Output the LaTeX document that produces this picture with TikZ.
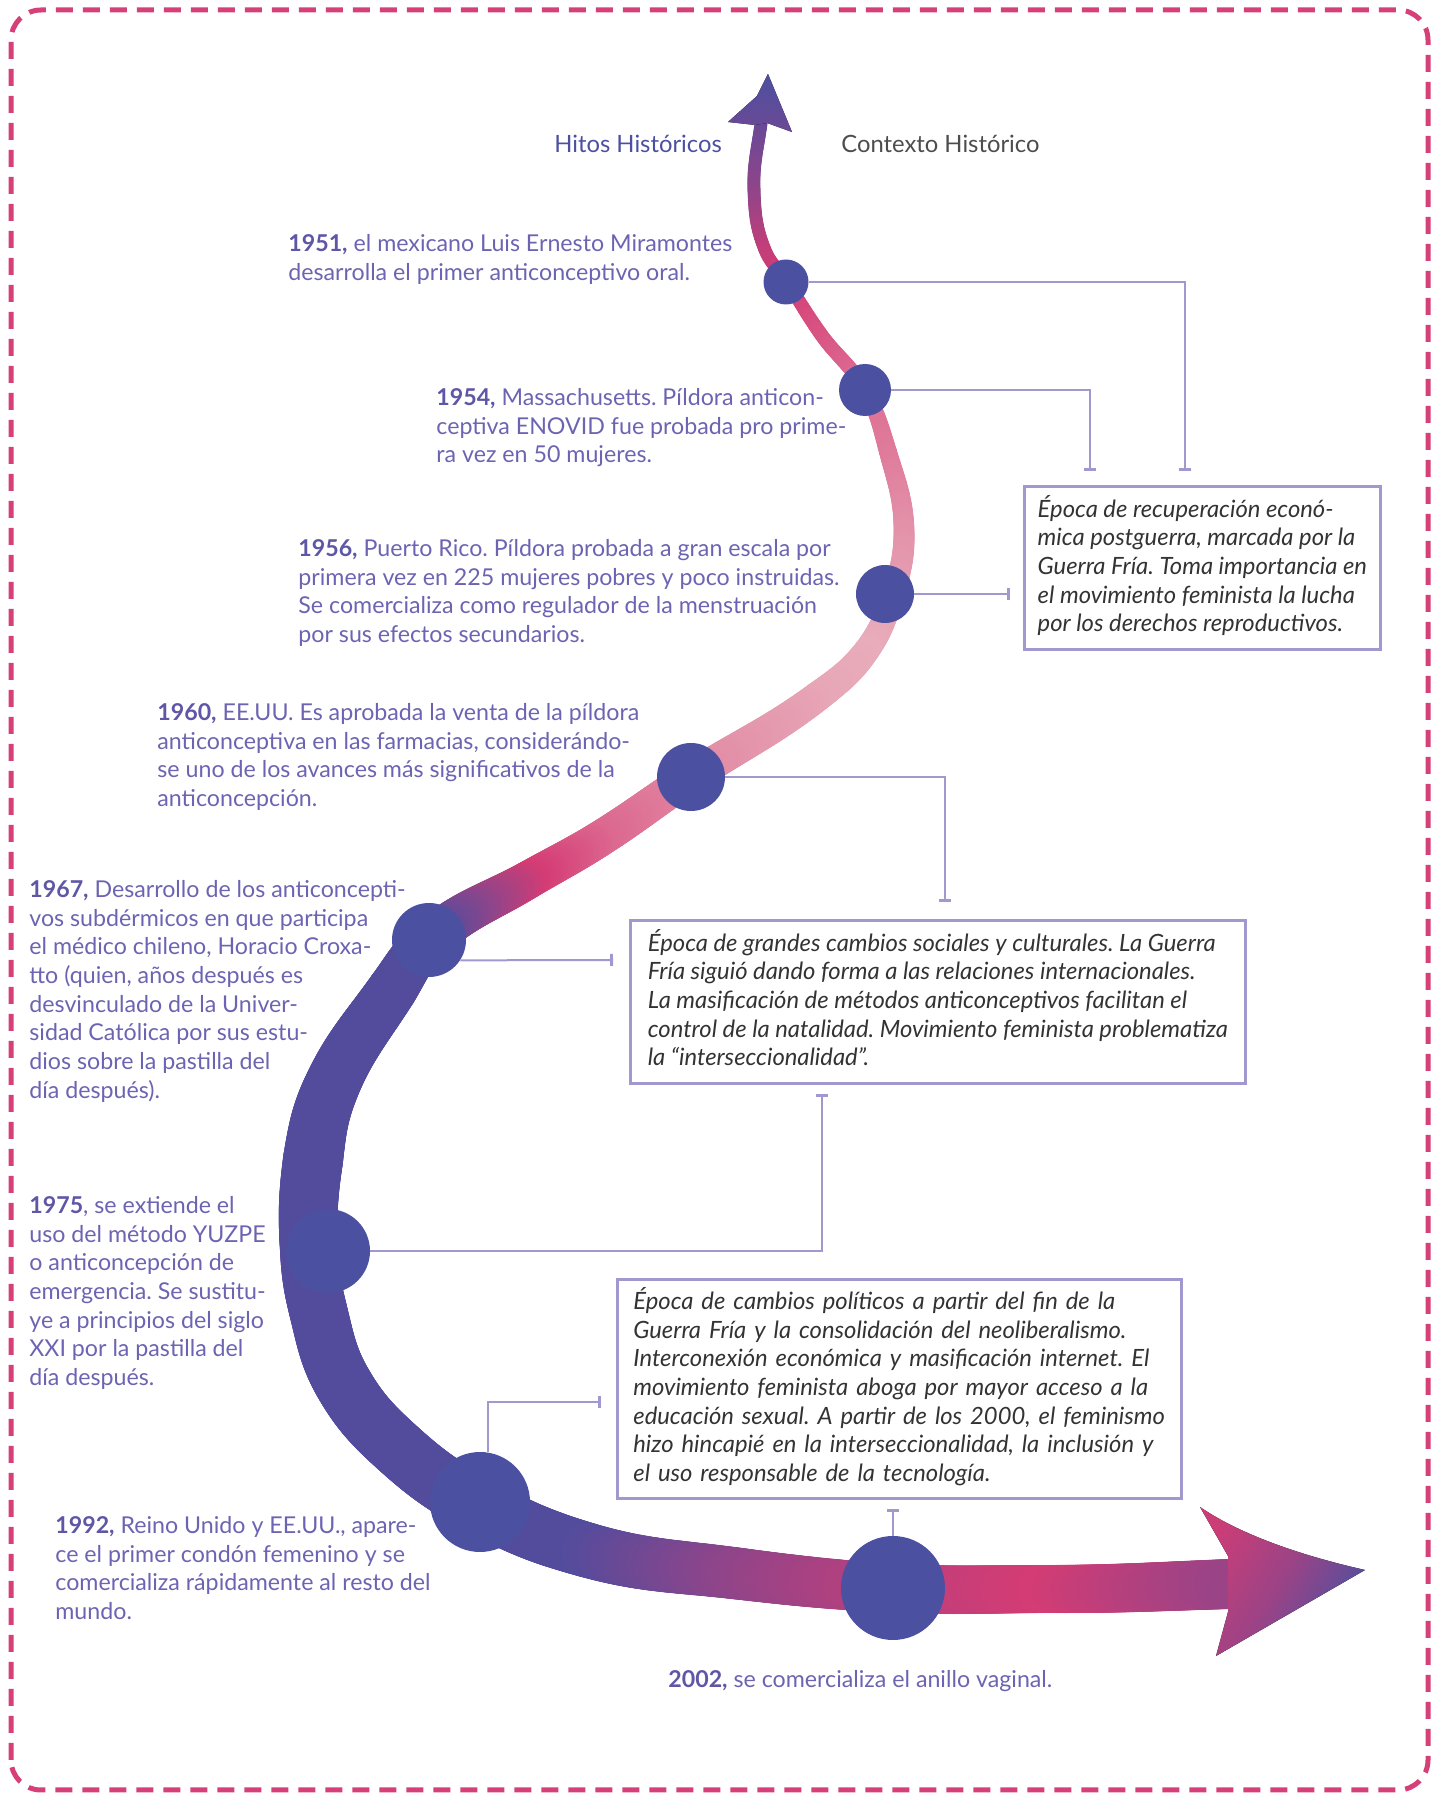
\documentclass[tikz,border=0pt]{standalone}
\usepackage{fontspec}
\setmainfont{Lato}
\usetikzlibrary{arrows.meta,decorations.markings}

\definecolor{hitoblue}{HTML}{4C50A0}
\definecolor{bandblue}{HTML}{534C9D}
\definecolor{bandmag}{HTML}{D43C74}
\definecolor{bandlight}{HTML}{E8ACBA}
\definecolor{hitotext}{HTML}{6C64B2}
\definecolor{yeartext}{HTML}{5E57A6}
\definecolor{linkcol}{HTML}{A298D0}
\definecolor{boxtext}{HTML}{333333}
\definecolor{ctxgray}{HTML}{4D4D4D}
\definecolor{framecol}{HTML}{D64078}

\newcommand\yr[1]{\textbf{\color{yeartext}#1}}
\frenchspacing

\begin{document}
\begin{tikzpicture}[x=0.5pt,y=0.5pt,
  hito/.style={circle,fill=hitoblue,inner sep=0pt},
  hitotxt/.style={anchor=north west,inner sep=0pt,align=left,text=hitotext,
    font=\fontsize{11.6}{14.35}\selectfont},
  ctx/.style={draw=linkcol,line width=1.35pt,anchor=north west,inner sep=0pt,
    align=left,text=boxtext,font=\fontsize{11.9}{14.35}\selectfont\itshape},
  title/.style={anchor=base west,inner sep=0pt,font=\fontsize{11.9}{14}\selectfont},
  link/.style={draw=linkcol,line width=1pt,-{Bar[width=6pt,line width=1.4pt]}}]

  \useasboundingbox (0,0) rectangle (1431,1796);
  \draw[framecol,line width=2.5pt,dash pattern=on 8.5pt off 5pt,rounded corners=15pt]
    (11,6) rectangle (1428,1786);

  \foreach \n/\x/\y in {0/761/1672,1/754/1606,2/765/1546,3/787/1514,4/820/1463,
      5/865/1406,6/888/1344,7/904/1266,8/893/1202,9/867/1146,10/817/1099,
      11/691/1019,12/598/956,13/528/916,14/429/856,15/392/806,16/330/706,
      17/313/636,18/309/546,19/318/486,20/343/413,21/400/346,22/478/291,
      23/587/246,24/733/223,25/893/208,26/1050/207,27/1230/212}
    \coordinate (k\n) at (\x,\y);

  \foreach \a/\b/\oa/\ib/\ca/\cb/\wa/\wb in {
      0/1/262/92/bandblue!85!bandmag/bandblue!55!bandmag/13/13,
      1/2/272/112/bandblue!55!bandmag/bandblue!15!bandmag/13/13,
      2/3/292/123/bandblue!15!bandmag/bandmag/13/13,
      3/4/303/125/bandmag/bandmag!80!bandlight/13/14,
      4/5/305/119/bandmag!80!bandlight/bandmag!55!bandlight/14/15,
      5/6/299/106/bandmag!55!bandlight/bandmag!45!bandlight/15/18,
      6/7/286/91/bandmag!45!bandlight/bandmag!25!bandlight/18/21,
      7/8/271/72/bandmag!25!bandlight/bandmag!12!bandlight/21/23,
      8/9/252/54/bandmag!12!bandlight/bandlight/23/26,
      9/10/234/37/bandlight/bandmag!5!bandlight/26/30,
      10/11/217/33/bandmag!5!bandlight/bandmag!30!bandlight/30/34,
      11/12/213/32/bandmag!30!bandlight/bandmag!60!bandlight/34/36,
      12/13/212/30/bandmag!60!bandlight/bandmag/36/38,
      13/14/210/42/bandmag/bandblue/38/44,
      14/15/222/56/bandblue/bandblue/44/50,
      15/16/236/67/bandblue/bandblue/50/56,
      16/17/247/82/bandblue/bandblue/56/60,
      17/18/262/93/bandblue/bandblue/60/58,
      18/19/273/104/bandblue/bandblue/58/58,
      19/20/284/120/bandblue/bandblue/58/58,
      20/21/300/138/bandblue/bandblue/58/58,
      21/22/318/151/bandblue/bandblue/58/58,
      22/23/331/164/bandblue/bandblue/58/55,
      23/24/344/173/bandblue/bandblue!55!bandmag/55/52,
      24/25/353/177/bandblue!55!bandmag/bandblue!20!bandmag/52/49,
      25/26/357/180/bandblue!20!bandmag/bandmag/49/48,
      26/27/0/182/bandmag/bandblue!45!bandmag/48/50}{
    \colorlet{segA}{\ca}\colorlet{segB}{\cb}
    \path[decorate,decoration={markings,
        mark=between positions 0 and 1 step 1pt with {
          \pgfmathsetmacro\fr{min(100,100*(\pgfkeysvalueof{/pgf/decoration/mark info/distance from start})/(\pgfdecoratedpathlength))}
          \pgfmathsetmacro\rr{(\wa+(\wb-\wa)*\fr/100)/4}
          \fill[segB!\fr!segA] (0,0) circle (\rr pt);
        }}] (k\a) to[out=\oa,in=\ib] (k\b);
  }

  \fill[top color=hitoblue,bottom color=bandblue!80!bandmag]
    (768,1722) -- (792,1664) -- (767,1673) -- (755,1671) -- (728,1674) -- (757,1700) -- cycle;
  \fill[top color=bandmag!92!bandblue,bottom color=hitoblue,middle color=bandblue!45!bandmag,
      shading angle=60]
    (1200,289) .. controls (1235,265) and (1290,243) .. (1365,226)
    -- (1216,140) -- (1228,184) -- (1228,240) -- cycle;

  \node[hito,minimum size=22.5pt] (c1) at (786,1514) {};
  \node[hito,minimum size=26pt] (c2) at (865,1406) {};
  \node[hito,minimum size=29pt] (c3) at (885,1202) {};
  \node[hito,minimum size=34pt] (c4) at (691,1019) {};
  \node[hito,minimum size=37pt] (c5) at (429,856) {};
  \node[hito,minimum size=42pt] (c6) at (328,545) {};
  \node[hito,minimum size=50pt] (c7) at (480,294) {};
  \node[hito,minimum size=52pt] (c8) at (893,208) {};

  \coordinate (t1) at (1185,1325);
  \coordinate (t2) at (1090,1325);
  \coordinate (t3) at (1010,1202);
  \coordinate (t4) at (945,894);
  \coordinate (t5) at (613,836);
  \coordinate (t6) at (822,702);
  \coordinate (t7) at (601,394);
  \coordinate (t8) at (893,287);

  \draw[link] (c1) -| (t1);
  \draw[link] (c2) -| (t2);
  \draw[link] (c3) -- (t3);
  \draw[link] (c4) -| (t4);
  \draw[link] (c5.-33) -- (t5);
  \draw[link] (c6) -| (t6);
  \draw[link] (c7.81) |- (t7);
  \draw[link] (c8) -- (t8);

  \node[title,text=hitoblue] (hitos) at (554,1643) {Hitos Históricos};
  \node[title,text=ctxgray] (contexto) at (841,1643) {Contexto Histórico};

  \node[hitotxt] (h1951) at (288,1565) {\strut\yr{1951,} el mexicano Luis Ernesto Miramontes\\
    desarrolla el primer anticonceptivo oral.};
  \node[hitotxt] (h1954) at (436,1411) {\strut\yr{1954,} Massachusetts. Píldora anticon-\\
    ceptiva ENOVID fue probada pro prime-\\ra vez en 50 mujeres.};
  \node[hitotxt] (h1956) at (298,1260) {\strut\yr{1956,} Puerto Rico. Píldora probada a gran escala por\\
    primera vez en 225 mujeres pobres y poco instruidas.\\
    Se comercializa como regulador de la menstruación\\por sus efectos secundarios.};
  \node[hitotxt] (h1960) at (157,1096) {\strut\yr{1960,} EE.UU. Es aprobada la venta de la píldora\\
    anticonceptiva en las farmacias, considerándo-\\se uno de los avances más significativos de la\\
    anticoncepción.};
  \node[hitotxt] (h1967) at (29,919) {\strut\yr{1967,} Desarrollo de los anticoncepti-\\
    vos subdérmicos en que participa\\el médico chileno, Horacio Croxa-\\tto (quien, años después es\\
    desvinculado de la Univer-\\sidad Católica por sus estu-\\dios sobre la pastilla del\\día después).};
  \node[hitotxt] (h1975) at (29,603) {\strut\yr{1975}, se extiende el\\uso del método YUZPE\\
    o anticoncepción de\\emergencia. Se sustitu-\\ye a principios del siglo\\XXI por la pastilla del\\
    día después.};
  \node[hitotxt] (h1992) at (55,283) {\strut\yr{1992,} Reino Unido y EE.UU., apare-\\
    ce el primer condón femenino y se\\comercializa rápidamente al resto del\\mundo.};
  \node[hitotxt] (h2002) at (668,129) {\strut\yr{2002,} se comercializa el anillo vaginal.};

  \node[ctx,minimum width=178pt,minimum height=81.5pt] (b1) at (1023,1311)
    {\strut Época de recuperación econó-\\mica postguerra, marcada por la\\
     Guerra Fría. Toma importancia en\\el movimiento feminista la lucha\\
     por los derechos reproductivos.\strut};
  \node[ctx,minimum width=307.5pt,minimum height=81.5pt] (b2) at (629,877)
    {\strut Época de grandes cambios sociales y culturales. La Guerra\\
     Fría siguió dando forma a las relaciones internacionales.\\
     La masificación de métodos anticonceptivos facilitan el\\
     control de la natalidad. Movimiento feminista problematiza\\
     la “interseccionalidad”.\strut};
  \node[ctx,inner xsep=8pt,text width=266pt,minimum height=109.5pt] (b3) at (616,518)
    {\strut Época de cambios políticos a partir del fin de la\\
     Guerra Fría y la consolidación del neoliberalismo.\\
     Interconexión económica y masificación internet. El\\
     movimiento feminista aboga por mayor acceso a la\\
     educación sexual. A partir de los 2000, el feminismo\\
     hizo hincapié en la interseccionalidad, la inclusión y\\
     el uso responsable de la tecnología.\strut};
\end{tikzpicture}
\end{document}
